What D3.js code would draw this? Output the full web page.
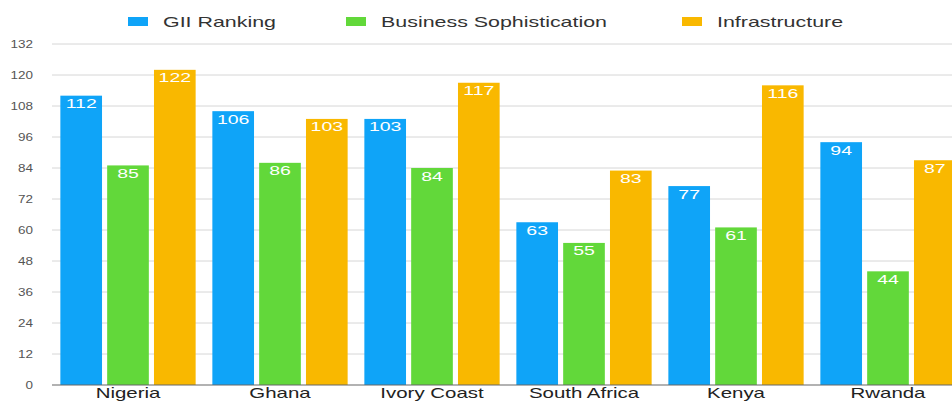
<!DOCTYPE html>
<html><head><meta charset="utf-8">
<script src="https://cdn.jsdelivr.net/npm/d3@7"></script>
<style>body{margin:0;background:#fff;overflow:hidden}svg{display:block}text{font-family:"Liberation Sans",Arial,sans-serif}</style>
</head><body><svg id="c" width="952" height="402"></svg>
<script>
const categories = ["Nigeria","Ghana","Ivory Coast","South Africa","Kenya","Rwanda"];
const seriesNames = ["GII Ranking","Business Sophistication","Infrastructure"];
const giiRanking = [112,106,103,63,77,94];
const businessSophistication = [85,86,84,55,61,44];
const infrastructure = [122,103,117,83,116,87];
const yTicks = [0,12,24,36,48,60,72,84,96,108,120,132];
const colors = ["#0fa4f8","#62d83a","#f9b800"];
const series = [giiRanking, businessSophistication, infrastructure];

const svg = d3.select("#c");
const mLeft = 52, mRight = 964, mTop = 44, mBottom = 385;
const x0 = d3.scaleBand().domain(categories).range([mLeft, mRight]).paddingInner(0.11).paddingOuter(0.055);
const x1 = d3.scaleBand().domain(seriesNames).range([0, x0.bandwidth()]).paddingInner(0.11);
const y = d3.scaleLinear().domain([0,132]).range([mBottom, mTop]);

// place a horizontally widened text
function wide(sel, sx, xf, yf) {
  sel.attr("transform", function(d,i){ return `translate(${xf(d,i)},${yf(d,i)}) scale(${sx},1)`; })
     .attr("x", 0).attr("y", 0);
}

// grid
svg.append("g").selectAll("line").data(yTicks.filter(d=>d>0)).join("line")
  .attr("x1", mLeft).attr("x2", 952).attr("y1", d=>y(d)).attr("y2", d=>y(d))
  .attr("stroke", "#d6d6d6").attr("stroke-width", 1);

// y axis labels
svg.append("g").selectAll("text").data(yTicks).join("text")
  .attr("text-anchor", "end").attr("font-size", 10).attr("fill", "#555")
  .text(d=>d)
  .call(wide, 1.35, ()=>33, d=>y(d) + 3.5);

// bars
const g = svg.append("g").selectAll("g").data(categories).join("g")
  .attr("transform", d=>`translate(${x0(d)},0)`);
seriesNames.forEach((s, si) => {
  g.append("rect")
    .attr("x", x1(s)).attr("width", x1.bandwidth())
    .attr("y", (d,i)=>y(series[si][i])).attr("height", (d,i)=>mBottom - y(series[si][i]))
    .attr("fill", colors[si]);
  g.append("text")
    .attr("text-anchor","middle").attr("fill","#fff").attr("font-size",13)
    .text((d,i)=>series[si][i])
    .call(wide, 1.5, ()=>x1(s) + x1.bandwidth()/2, (d,i)=>y(series[si][i]) + 12.5);
});

// baseline
svg.append("line").attr("x1", mLeft).attr("x2", 952).attr("y1", mBottom).attr("y2", mBottom)
  .attr("stroke", "#666").attr("stroke-width", 1.2);

// x axis labels
svg.append("g").selectAll("text").data(categories).join("text")
  .attr("text-anchor","middle").attr("font-size", 14).attr("fill", "#222")
  .text(d=>d)
  .call(wide, 1.46, d=>x0(d) + x0.bandwidth()/2, ()=>398);

// legend
const legendX = [128, 346, 682];
const lg = svg.append("g").selectAll("g").data(seriesNames).join("g")
  .attr("transform", (d,i)=>`translate(${legendX[i]},17)`);
lg.append("rect").attr("width", 20).attr("height", 9).attr("fill", (d,i)=>colors[i]);
lg.append("text").attr("font-size", 14).attr("fill", "#333").text(d=>d)
  .call(wide, 1.53, ()=>35, ()=>9.5);
</script></body></html>
